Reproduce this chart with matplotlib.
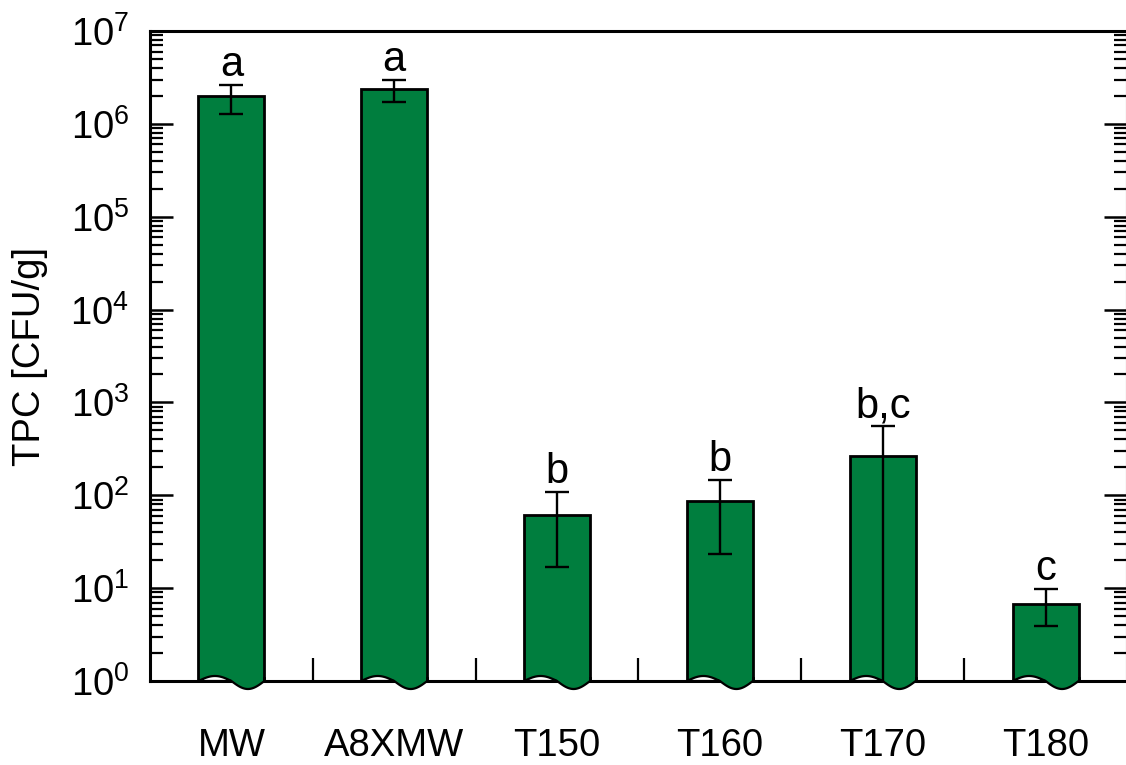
import numpy as np
import matplotlib
matplotlib.use("Agg")
import matplotlib.pyplot as plt
from matplotlib.ticker import FixedLocator, FuncFormatter, NullFormatter
from matplotlib.transforms import blended_transform_factory
from matplotlib.patches import Polygon

plt.rcParams['font.family'] = ['Liberation Sans', 'DejaVu Sans']
plt.rcParams['mathtext.fontset'] = 'custom'
plt.rcParams['mathtext.rm'] = 'Liberation Sans'
plt.rcParams['mathtext.it'] = 'Liberation Sans'

# ---- data ----
categories = ["MW", "A8XMW", "T150", "T160", "T170", "T180"]
tpc_mean = [2.0e6, 2.35e6, 61, 87, 267, 6.75]
err_upper = [2.62e6, 2.96e6, 108, 145, 553, 9.7]
err_lower = [1.28e6, 1.73e6, 16.9, 23.3, 1e-3, 3.91]
letters = ["a", "a", "b", "b", "b,c", "c"]
y_decades = [0, 1, 2, 3, 4, 5, 6, 7]

green = "#007E3E"
W, H = 1126, 765
fig = plt.figure(figsize=(W / 100, H / 100), dpi=100)
ax = fig.add_axes([150 / W, 84 / H, (1127 - 150) / W, 650 / H])

x = np.arange(len(categories))
mean = np.array(tpc_mean)
up = np.array(err_upper) - mean
lo = mean - np.array(err_lower)
bw = 0.405

ax.set_yscale('log')
ax.set_ylim(1, 1e7)
ax.set_xlim(-0.5, 5.5)

ax.bar(x, mean, width=bw, bottom=1e-3, color=green, edgecolor='black',
       linewidth=2.0, zorder=3)

ax.errorbar(x, mean, yerr=[lo, up], fmt='none', ecolor='black',
            elinewidth=1.7, capsize=8.6, capthick=1.7, zorder=5)

# wavy break at bar bottoms
trans = blended_transform_factory(ax.transData, ax.transAxes)
amp_up = 5 / 650
amp_dn = 8 / 650
for xi in x:
    t1 = np.linspace(0, 0.5, 60)
    xs1 = xi - bw / 2 + t1 * bw
    ys1 = amp_up * np.sin(2 * np.pi * t1)
    hump = Polygon(np.column_stack([xs1, ys1]), closed=True, transform=trans,
                   facecolor='white', edgecolor='black', linewidth=1.6,
                   zorder=4, clip_on=False)
    ax.add_patch(hump)
    t2 = np.linspace(0.5, 1.0, 60)
    xs2 = xi - bw / 2 + t2 * bw
    ys2 = amp_dn * np.sin(2 * np.pi * t2)
    bulge = Polygon(np.column_stack([xs2, ys2]), closed=True, transform=trans,
                    facecolor=green, edgecolor='none', zorder=4, clip_on=False)
    ax.add_patch(bulge)
    ax.plot(xs2, ys2, color='black', lw=1.6, transform=trans, zorder=4.5,
            clip_on=False, solid_capstyle='round')
    ax.plot([xi + bw / 2, xi + bw / 2], [0, 0.004], color='black', lw=2.0,
            transform=trans, zorder=4.5, clip_on=False)

for xi, top, lab in zip(x, err_upper, letters):
    ax.annotate(lab, (xi, top), xytext=(0, 6.5), textcoords='offset points',
                ha='center', va='baseline', fontsize=30, zorder=6)

# axes styling
for s in ['top', 'bottom', 'left', 'right']:
    ax.spines[s].set_linewidth(2.2)

ax.xaxis.set_major_locator(FixedLocator(x))
ax.xaxis.set_minor_locator(FixedLocator(x[:-1] + 0.5))
ax.set_xticklabels(categories, fontsize=27.5)
ax.tick_params(axis='x', which='major', length=0, pad=34, top=False)
ax.tick_params(axis='x', which='minor', direction='in', length=16.5,
               width=1.6, top=False)

majors = [10.0 ** d for d in y_decades]
minors = [m * 10.0 ** d for d in y_decades[:-1] for m in range(2, 10)]
ax.yaxis.set_major_locator(FixedLocator(majors))
ax.yaxis.set_minor_locator(FixedLocator(minors))
ax.yaxis.set_minor_formatter(NullFormatter())
ax.yaxis.set_major_formatter(FuncFormatter(lambda v, p: r"$\mathregular{10^{%d}}$" % int(round(np.log10(v)))))
ax.tick_params(axis='y', which='major', direction='in', length=16.5, width=1.8,
               left=True, right=True, labelsize=27.5, pad=15)
ax.tick_params(axis='y', which='minor', direction='in', length=9.4, width=1.6,
               left=True, right=True)

ax.set_ylabel("TPC [CFU/g]", fontsize=27.5, labelpad=16)

fig.savefig("out.png", dpi=100)
